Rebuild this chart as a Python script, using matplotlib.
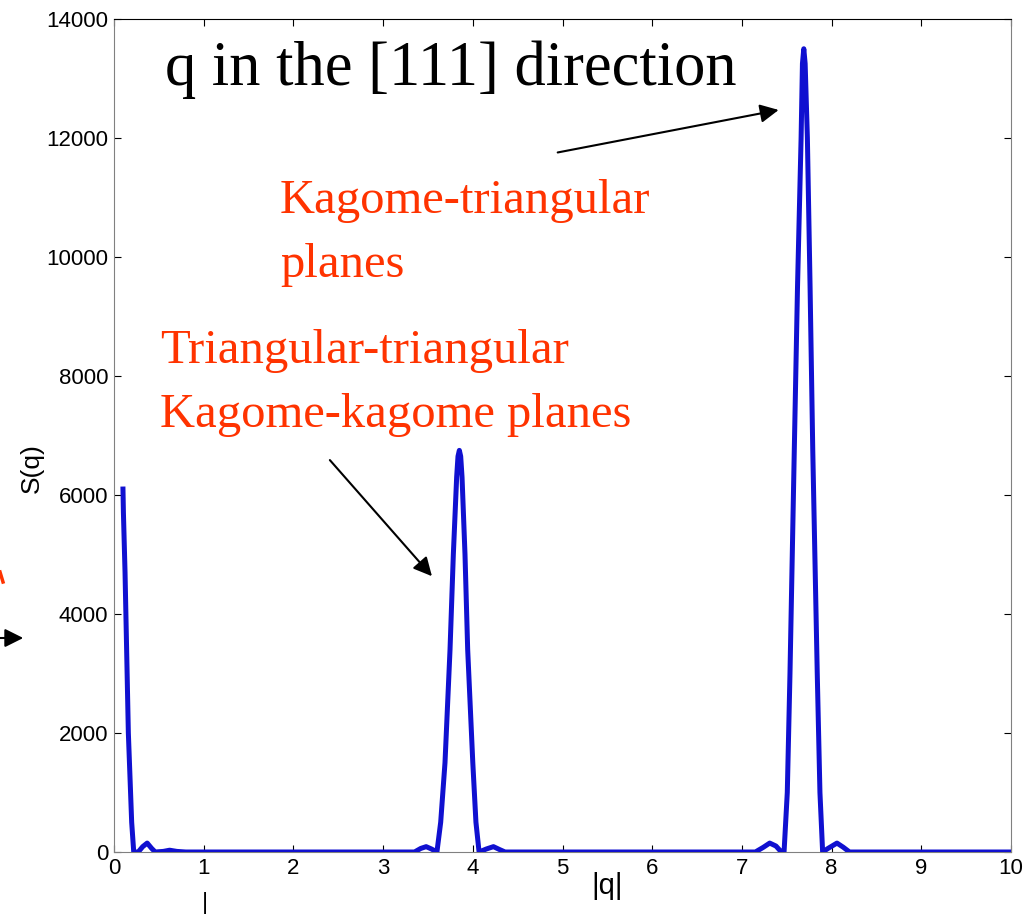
import matplotlib
matplotlib.use("Agg")
import matplotlib.pyplot as plt
from matplotlib.lines import Line2D

# S(q)
q = [0.10, 0.105, 0.123, 0.16, 0.197, 0.22, 0.27, 0.32, 0.37, 0.42, 0.46, 0.55, 0.62, 0.70, 0.80,
     1.0, 2.0, 3.0, 3.35, 3.42, 3.48, 3.54, 3.60,
     3.642, 3.69, 3.746, 3.783, 3.82, 3.835, 3.85, 3.865, 3.88, 3.913, 3.943, 4.0, 4.035, 4.07,
     4.15, 4.23, 4.30, 4.36, 5.0, 6.0, 7.0, 7.15, 7.24, 7.31, 7.38, 7.44, 7.47,
     7.506, 7.536, 7.584, 7.62, 7.66, 7.675, 7.69, 7.705, 7.73, 7.76, 7.79, 7.84, 7.87, 7.90,
     7.96, 8.06, 8.13, 8.20, 9.0, 10.0]
s = [6100, 5700, 4700, 2000, 500, 0, 0, 90, 150, 60, 0, 10, 30, 10, 0,
     0, 0, 0, 0, 60, 90, 50, 0,
     500, 1500, 3400, 5000, 6300, 6650, 6750, 6650, 6300, 5000, 3400, 1500, 500, 0,
     50, 90, 40, 0, 0, 0, 0, 0, 80, 150, 100, 0, 0,
     1000, 3000, 6750, 9500, 12000, 13250, 13500, 13250, 12000, 9500, 6750, 3000, 1000, 0,
     60, 150, 80, 0, 0, 0]

xticks = list(range(0, 11))
yticks = list(range(0, 14001, 2000))

red = "#FF3300"
W, H = 1025, 915

fig = plt.figure(figsize=(10.25, 9.15), dpi=100)
ax = fig.add_axes([114 / W, 1 - 852 / H, (1011 - 114) / W, (852 - 19) / H])

ax.plot(q, s, color="#1010D0", linewidth=3.6, solid_joinstyle="round", zorder=3)

ax.set_xlim(0, 10)
ax.set_ylim(0, 14000)
ax.set_xticks(xticks)
ax.set_yticks(yticks)
ax.tick_params(direction="in", length=5, width=0.8, labelsize=16, pad=4,
               top=True, right=True)
for lab in ax.get_xticklabels() + ax.get_yticklabels():
    lab.set_family("Liberation Sans")
for side in ["left", "right", "bottom"]:
    ax.spines[side].set_color("#808080")
ax.spines["top"].set_color("black")

ax.set_xlabel("|q|", fontsize=21, family="Liberation Sans")
ax.xaxis.set_label_coords((607 - 114) / 897, (852 - 872) / 833)
ax.set_ylabel("S(q)", fontsize=19, family="Liberation Sans")
ax.yaxis.set_label_coords((44 - 114) / 897, (852 - 468) / 833)

# annotations
ax.text(0.569, 12891, "q in the [111] direction", fontsize=45,
        family="Liberation Serif", color="black", va="baseline")
ax.text(1.85, 10739, "Kagome-triangular", fontsize=35,
        family="Liberation Serif", color=red, va="baseline")
ax.text(1.85, 9664, "planes", fontsize=35,
        family="Liberation Serif", color=red, va="baseline")
ax.text(0.513, 8218, "Triangular-triangular", fontsize=35,
        family="Liberation Serif", color=red, va="baseline")
ax.text(0.513, 7143, "Kagome-kagome planes", fontsize=35,
        family="Liberation Serif", color=red, va="baseline")

arrow = dict(arrowstyle="-|>", color="black", lw=1.5, mutation_scale=28)
ax.annotate("", xy=(7.44, 12480), xytext=(4.916, 11748), arrowprops=arrow)
ax.annotate("", xy=(3.565, 4600), xytext=(2.386, 6622), arrowprops=arrow)
ax.annotate("", xy=(26, H - 638), xytext=(-5, H - 638),
            xycoords="figure pixels", textcoords="figure pixels",
            arrowprops=arrow, annotation_clip=False)

# cut-off bits at the figure edges
fig.add_artist(Line2D([0, 3 / W], [1 - 572 / H, 1 - 582 / H], color=red, lw=2.5))
fig.text(205 / W, 1 - 892 / H, "|", fontsize=17, family="Liberation Sans",
         ha="center", va="top")

fig.savefig("out.png", dpi=100)
